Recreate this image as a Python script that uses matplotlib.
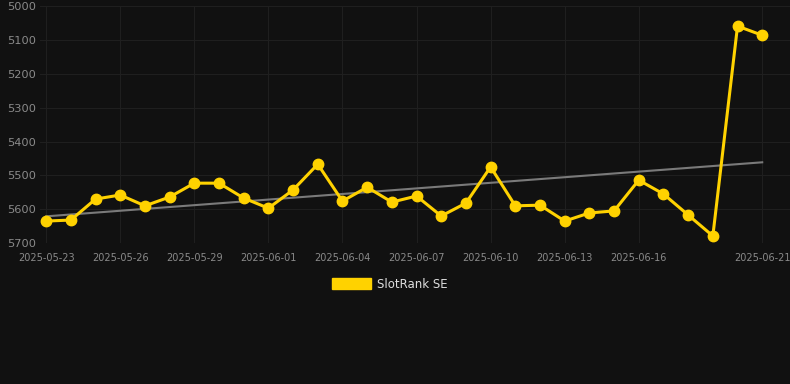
import numpy as np
import pandas as pd
import matplotlib
matplotlib.use("Agg")
import matplotlib.pyplot as plt
import matplotlib.dates as mdates
from matplotlib.patches import Patch

# data
dates = pd.date_range("2025-05-23", "2025-06-21", freq="D")
rank = [5635, 5632, 5570, 5558, 5590, 5564, 5523, 5523, 5567, 5597,
        5543, 5467, 5576, 5535, 5579, 5561, 5620, 5582, 5475, 5590,
        5588, 5635, 5611, 5605, 5514, 5555, 5617, 5679, 5059, 5086]
tick_dates = ["2025-05-23", "2025-05-26", "2025-05-29", "2025-06-01", "2025-06-04",
              "2025-06-07", "2025-06-10", "2025-06-13", "2025-06-16", "2025-06-21"]
series_name = "SlotRank SE"

bg = "#111111"
gold = "#FFD200"

fig = plt.figure(figsize=(7.9, 3.84), dpi=100, facecolor=bg)
ax = fig.add_axes([0.0506, 0.367, 0.9494, 0.617])
ax.set_facecolor(bg)

# trend line (linear fit)
xd = np.arange(len(rank))
k, b = np.polyfit(xd, rank, 1)
ax.plot(dates, k * xd + b, color="#7a7a7a", lw=1.5, zorder=2)

ax.plot(dates, rank, color=gold, lw=2.2, marker="o", ms=7.5, zorder=3)

ax.set_ylim(5700, 5000)
ax.set_yticks(range(5000, 5701, 100))
ax.set_xlim(dates[0] - pd.Timedelta(hours=6), dates[-1] + pd.Timedelta(hours=27))
ax.set_xticks(pd.to_datetime(tick_dates))
ax.xaxis.set_major_formatter(mdates.DateFormatter("%Y-%m-%d"))

ax.grid(True, color="#1f1f1f", lw=0.8)
for s in ax.spines.values():
    s.set_visible(False)
ax.tick_params(axis="y", length=0, pad=3, labelsize=8.2, labelcolor="#8a8a8a")
ax.tick_params(axis="x", length=0, pad=7, labelsize=7, labelcolor="#8a8a8a")

fig.legend(handles=[Patch(color=gold, label=series_name)],
           loc="center", bbox_to_anchor=(0.493, 0.26), frameon=False,
           fontsize=8.5, labelcolor="#dddddd", handlelength=3.3, handleheight=1.0,
           handletextpad=0.5)

fig.savefig("out.png", facecolor=bg)
